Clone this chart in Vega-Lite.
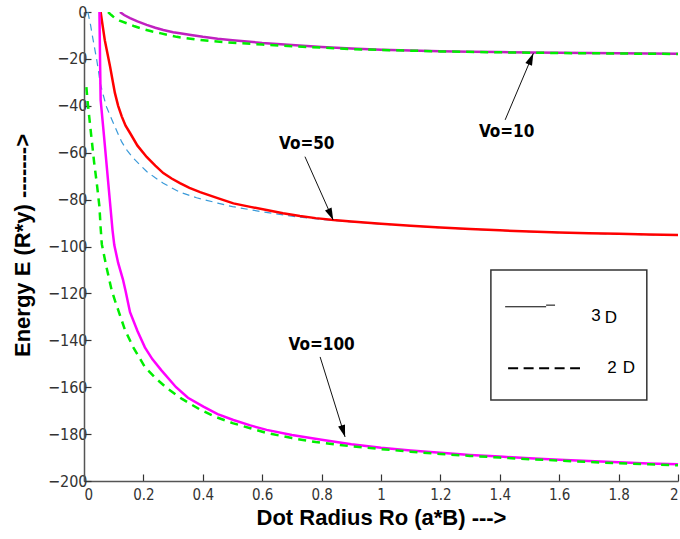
{
  "$schema": "https://vega.github.io/schema/vega-lite/v6.json",
  "width": 594,
  "height": 469,
  "autosize": "none",
  "padding": {"left": 84, "top": 12, "right": 2, "bottom": 58},
  "background": "white",
  "config": {"view": {"stroke": null}},
  "datasets": {
    "curves": [
      {"series": "Vo=10 3D", "x": 0.121, "y": 0}, {"series": "Vo=10 3D", "x": 0.135, "y": -1.3}, {"series": "Vo=10 3D", "x": 0.155, "y": -2.6}, {"series": "Vo=10 3D", "x": 0.18, "y": -4.0}, {"series": "Vo=10 3D", "x": 0.211, "y": -5.5}, {"series": "Vo=10 3D", "x": 0.24, "y": -6.7}, {"series": "Vo=10 3D", "x": 0.267, "y": -7.7}, {"series": "Vo=10 3D", "x": 0.3, "y": -8.6}, {"series": "Vo=10 3D", "x": 0.323, "y": -9.1}, {"series": "Vo=10 3D", "x": 0.36, "y": -9.8}, {"series": "Vo=10 3D", "x": 0.4, "y": -10.6}, {"series": "Vo=10 3D", "x": 0.45, "y": -11.4}, {"series": "Vo=10 3D", "x": 0.5, "y": -12.0}, {"series": "Vo=10 3D", "x": 0.6, "y": -13.2}, {"series": "Vo=10 3D", "x": 0.7, "y": -14.1}, {"series": "Vo=10 3D", "x": 0.8, "y": -14.9}, {"series": "Vo=10 3D", "x": 0.9, "y": -15.6}, {"series": "Vo=10 3D", "x": 1.0, "y": -16.1}, {"series": "Vo=10 3D", "x": 1.1, "y": -16.4}, {"series": "Vo=10 3D", "x": 1.2, "y": -16.7}, {"series": "Vo=10 3D", "x": 1.3, "y": -16.9}, {"series": "Vo=10 3D", "x": 1.4, "y": -17.1}, {"series": "Vo=10 3D", "x": 1.5, "y": -17.3}, {"series": "Vo=10 3D", "x": 1.6, "y": -17.4}, {"series": "Vo=10 3D", "x": 1.7, "y": -17.5}, {"series": "Vo=10 3D", "x": 1.8, "y": -17.6}, {"series": "Vo=10 3D", "x": 1.9, "y": -17.7}, {"series": "Vo=10 3D", "x": 2.0, "y": -17.8},

      {"series": "Vo=10 2D", "x": 0.081, "y": 0}, {"series": "Vo=10 2D", "x": 0.092, "y": -1.3}, {"series": "Vo=10 2D", "x": 0.104, "y": -2.6}, {"series": "Vo=10 2D", "x": 0.12, "y": -3.7}, {"series": "Vo=10 2D", "x": 0.144, "y": -4.8}, {"series": "Vo=10 2D", "x": 0.17, "y": -6.1}, {"series": "Vo=10 2D", "x": 0.2, "y": -7.3}, {"series": "Vo=10 2D", "x": 0.23, "y": -8.3}, {"series": "Vo=10 2D", "x": 0.256, "y": -9.0}, {"series": "Vo=10 2D", "x": 0.285, "y": -9.9}, {"series": "Vo=10 2D", "x": 0.312, "y": -10.6}, {"series": "Vo=10 2D", "x": 0.345, "y": -11.2}, {"series": "Vo=10 2D", "x": 0.374, "y": -11.7}, {"series": "Vo=10 2D", "x": 0.42, "y": -12.3}, {"series": "Vo=10 2D", "x": 0.5, "y": -13.1}, {"series": "Vo=10 2D", "x": 0.6, "y": -13.9}, {"series": "Vo=10 2D", "x": 0.7, "y": -14.6}, {"series": "Vo=10 2D", "x": 0.8, "y": -15.2}, {"series": "Vo=10 2D", "x": 0.9, "y": -15.8}, {"series": "Vo=10 2D", "x": 1.0, "y": -16.2}, {"series": "Vo=10 2D", "x": 1.2, "y": -16.8}, {"series": "Vo=10 2D", "x": 1.4, "y": -17.2}, {"series": "Vo=10 2D", "x": 1.6, "y": -17.5}, {"series": "Vo=10 2D", "x": 1.8, "y": -17.7}, {"series": "Vo=10 2D", "x": 2.0, "y": -17.9},

      {"series": "Vo=50 3D", "x": 0.056, "y": 0}, {"series": "Vo=50 3D", "x": 0.063, "y": -6}, {"series": "Vo=50 3D", "x": 0.07, "y": -12}, {"series": "Vo=50 3D", "x": 0.079, "y": -17.7}, {"series": "Vo=50 3D", "x": 0.088, "y": -23.4}, {"series": "Vo=50 3D", "x": 0.096, "y": -29}, {"series": "Vo=50 3D", "x": 0.104, "y": -34.5}, {"series": "Vo=50 3D", "x": 0.115, "y": -40}, {"series": "Vo=50 3D", "x": 0.127, "y": -44.5}, {"series": "Vo=50 3D", "x": 0.14, "y": -48.5}, {"series": "Vo=50 3D", "x": 0.155, "y": -51.6}, {"series": "Vo=50 3D", "x": 0.18, "y": -57}, {"series": "Vo=50 3D", "x": 0.211, "y": -61.8}, {"series": "Vo=50 3D", "x": 0.24, "y": -65.5}, {"series": "Vo=50 3D", "x": 0.267, "y": -68.7}, {"series": "Vo=50 3D", "x": 0.295, "y": -71}, {"series": "Vo=50 3D", "x": 0.323, "y": -73}, {"series": "Vo=50 3D", "x": 0.355, "y": -75}, {"series": "Vo=50 3D", "x": 0.391, "y": -76.8}, {"series": "Vo=50 3D", "x": 0.45, "y": -79.4}, {"series": "Vo=50 3D", "x": 0.503, "y": -81.6}, {"series": "Vo=50 3D", "x": 0.56, "y": -83.1}, {"series": "Vo=50 3D", "x": 0.615, "y": -84.4}, {"series": "Vo=50 3D", "x": 0.67, "y": -85.8}, {"series": "Vo=50 3D", "x": 0.727, "y": -87}, {"series": "Vo=50 3D", "x": 0.78, "y": -87.9}, {"series": "Vo=50 3D", "x": 0.84, "y": -88.7}, {"series": "Vo=50 3D", "x": 0.9, "y": -89.3}, {"series": "Vo=50 3D", "x": 1.0, "y": -90.3}, {"series": "Vo=50 3D", "x": 1.1, "y": -91.1}, {"series": "Vo=50 3D", "x": 1.2, "y": -91.9}, {"series": "Vo=50 3D", "x": 1.3, "y": -92.5}, {"series": "Vo=50 3D", "x": 1.4, "y": -93.1}, {"series": "Vo=50 3D", "x": 1.5, "y": -93.6}, {"series": "Vo=50 3D", "x": 1.6, "y": -94.0}, {"series": "Vo=50 3D", "x": 1.7, "y": -94.3}, {"series": "Vo=50 3D", "x": 1.8, "y": -94.6}, {"series": "Vo=50 3D", "x": 1.9, "y": -94.9}, {"series": "Vo=50 3D", "x": 2.0, "y": -95.1},

      {"series": "Vo=50 2D", "x": 0.013, "y": 0}, {"series": "Vo=50 2D", "x": 0.022, "y": -5.5}, {"series": "Vo=50 2D", "x": 0.029, "y": -10.7}, {"series": "Vo=50 2D", "x": 0.036, "y": -15.6}, {"series": "Vo=50 2D", "x": 0.043, "y": -20.5}, {"series": "Vo=50 2D", "x": 0.049, "y": -25.3}, {"series": "Vo=50 2D", "x": 0.054, "y": -30}, {"series": "Vo=50 2D", "x": 0.065, "y": -35.5}, {"series": "Vo=50 2D", "x": 0.076, "y": -40.5}, {"series": "Vo=50 2D", "x": 0.088, "y": -44.2}, {"series": "Vo=50 2D", "x": 0.099, "y": -47.4}, {"series": "Vo=50 2D", "x": 0.113, "y": -51.5}, {"series": "Vo=50 2D", "x": 0.127, "y": -55.4}, {"series": "Vo=50 2D", "x": 0.145, "y": -59}, {"series": "Vo=50 2D", "x": 0.166, "y": -62.3}, {"series": "Vo=50 2D", "x": 0.19, "y": -65.4}, {"series": "Vo=50 2D", "x": 0.211, "y": -68}, {"series": "Vo=50 2D", "x": 0.24, "y": -70.7}, {"series": "Vo=50 2D", "x": 0.267, "y": -73}, {"series": "Vo=50 2D", "x": 0.295, "y": -75}, {"series": "Vo=50 2D", "x": 0.323, "y": -76.8}, {"series": "Vo=50 2D", "x": 0.35, "y": -78}, {"series": "Vo=50 2D", "x": 0.379, "y": -79.2}, {"series": "Vo=50 2D", "x": 0.45, "y": -81.5}, {"series": "Vo=50 2D", "x": 0.5, "y": -83}, {"series": "Vo=50 2D", "x": 0.6, "y": -85.2}, {"series": "Vo=50 2D", "x": 0.7, "y": -87.1}, {"series": "Vo=50 2D", "x": 0.8, "y": -88.5}, {"series": "Vo=50 2D", "x": 0.9, "y": -89.5}, {"series": "Vo=50 2D", "x": 1.0, "y": -90.4}, {"series": "Vo=50 2D", "x": 1.1, "y": -91.2}, {"series": "Vo=50 2D", "x": 1.2, "y": -92.0}, {"series": "Vo=50 2D", "x": 1.3, "y": -92.6}, {"series": "Vo=50 2D", "x": 1.4, "y": -93.2}, {"series": "Vo=50 2D", "x": 1.5, "y": -93.7}, {"series": "Vo=50 2D", "x": 1.6, "y": -94.1}, {"series": "Vo=50 2D", "x": 1.7, "y": -94.4}, {"series": "Vo=50 2D", "x": 1.8, "y": -94.7}, {"series": "Vo=50 2D", "x": 1.9, "y": -95.0}, {"series": "Vo=50 2D", "x": 2.0, "y": -95.2},

      {"series": "Vo=100 3D", "x": 0.052, "y": 0}, {"series": "Vo=100 3D", "x": 0.054, "y": -20}, {"series": "Vo=100 3D", "x": 0.056, "y": -37.5}, {"series": "Vo=100 3D", "x": 0.066, "y": -51}, {"series": "Vo=100 3D", "x": 0.076, "y": -65}, {"series": "Vo=100 3D", "x": 0.086, "y": -79}, {"series": "Vo=100 3D", "x": 0.096, "y": -93}, {"series": "Vo=100 3D", "x": 0.102, "y": -99.4}, {"series": "Vo=100 3D", "x": 0.115, "y": -107}, {"series": "Vo=100 3D", "x": 0.131, "y": -114}, {"series": "Vo=100 3D", "x": 0.14, "y": -119}, {"series": "Vo=100 3D", "x": 0.155, "y": -128}, {"series": "Vo=100 3D", "x": 0.18, "y": -136}, {"series": "Vo=100 3D", "x": 0.205, "y": -143}, {"series": "Vo=100 3D", "x": 0.23, "y": -148}, {"series": "Vo=100 3D", "x": 0.26, "y": -152.7}, {"series": "Vo=100 3D", "x": 0.31, "y": -160}, {"series": "Vo=100 3D", "x": 0.35, "y": -164.5}, {"series": "Vo=100 3D", "x": 0.402, "y": -168.3}, {"series": "Vo=100 3D", "x": 0.45, "y": -171.5}, {"series": "Vo=100 3D", "x": 0.503, "y": -174}, {"series": "Vo=100 3D", "x": 0.56, "y": -176.3}, {"series": "Vo=100 3D", "x": 0.615, "y": -178.2}, {"series": "Vo=100 3D", "x": 0.7, "y": -180.4}, {"series": "Vo=100 3D", "x": 0.8, "y": -182.4}, {"series": "Vo=100 3D", "x": 0.9, "y": -184.3}, {"series": "Vo=100 3D", "x": 1.0, "y": -185.8}, {"series": "Vo=100 3D", "x": 1.1, "y": -187}, {"series": "Vo=100 3D", "x": 1.2, "y": -188}, {"series": "Vo=100 3D", "x": 1.3, "y": -188.9}, {"series": "Vo=100 3D", "x": 1.4, "y": -189.6}, {"series": "Vo=100 3D", "x": 1.5, "y": -190.3}, {"series": "Vo=100 3D", "x": 1.6, "y": -190.9}, {"series": "Vo=100 3D", "x": 1.7, "y": -191.5}, {"series": "Vo=100 3D", "x": 1.8, "y": -192}, {"series": "Vo=100 3D", "x": 1.9, "y": -192.5}, {"series": "Vo=100 3D", "x": 2.0, "y": -192.9},

      {"series": "Vo=100 2D", "x": 0.008, "y": -32}, {"series": "Vo=100 2D", "x": 0.012, "y": -38}, {"series": "Vo=100 2D", "x": 0.017, "y": -44}, {"series": "Vo=100 2D", "x": 0.026, "y": -54.6}, {"series": "Vo=100 2D", "x": 0.034, "y": -64}, {"series": "Vo=100 2D", "x": 0.043, "y": -73}, {"series": "Vo=100 2D", "x": 0.052, "y": -83}, {"series": "Vo=100 2D", "x": 0.056, "y": -92}, {"series": "Vo=100 2D", "x": 0.06, "y": -99}, {"series": "Vo=100 2D", "x": 0.068, "y": -104}, {"series": "Vo=100 2D", "x": 0.076, "y": -109}, {"series": "Vo=100 2D", "x": 0.093, "y": -118.6}, {"series": "Vo=100 2D", "x": 0.104, "y": -123}, {"series": "Vo=100 2D", "x": 0.115, "y": -127}, {"series": "Vo=100 2D", "x": 0.138, "y": -135.6}, {"series": "Vo=100 2D", "x": 0.166, "y": -143}, {"series": "Vo=100 2D", "x": 0.205, "y": -151.4}, {"series": "Vo=100 2D", "x": 0.24, "y": -156}, {"series": "Vo=100 2D", "x": 0.28, "y": -160.5}, {"series": "Vo=100 2D", "x": 0.33, "y": -165}, {"series": "Vo=100 2D", "x": 0.39, "y": -169.5}, {"series": "Vo=100 2D", "x": 0.44, "y": -172.5}, {"series": "Vo=100 2D", "x": 0.5, "y": -175.3}, {"series": "Vo=100 2D", "x": 0.56, "y": -177.5}, {"series": "Vo=100 2D", "x": 0.615, "y": -179.5}, {"series": "Vo=100 2D", "x": 0.7, "y": -181.7}, {"series": "Vo=100 2D", "x": 0.78, "y": -183.4}, {"series": "Vo=100 2D", "x": 0.9, "y": -185.2}, {"series": "Vo=100 2D", "x": 1.0, "y": -186.4}, {"series": "Vo=100 2D", "x": 1.1, "y": -187.5}, {"series": "Vo=100 2D", "x": 1.2, "y": -188.5}, {"series": "Vo=100 2D", "x": 1.3, "y": -189.3}, {"series": "Vo=100 2D", "x": 1.4, "y": -190}, {"series": "Vo=100 2D", "x": 1.5, "y": -190.7}, {"series": "Vo=100 2D", "x": 1.6, "y": -191.3}, {"series": "Vo=100 2D", "x": 1.7, "y": -191.9}, {"series": "Vo=100 2D", "x": 1.8, "y": -192.4}, {"series": "Vo=100 2D", "x": 1.9, "y": -192.9}, {"series": "Vo=100 2D", "x": 2.0, "y": -193.3}
    ],
    "arrows": [
      {"label": "Vo=10", "x": 1.513, "y": -17.6, "x2": 1.418, "y2": -46},
      {"label": "Vo=50", "x": 0.839, "y": -88.7, "x2": 0.744, "y2": -61.7},
      {"label": "Vo=100", "x": 0.879, "y": -181.2, "x2": 0.795, "y2": -147.1}
    ],
    "labels": [
      {"label": "Vo=10", "x": 1.423, "y": -51},
      {"label": "Vo=50", "x": 0.75, "y": -56.4},
      {"label": "Vo=100", "x": 0.80, "y": -142}
    ],
    "legendbox": [
      {"x": 1.370, "y": -110.0, "x2": 1.895, "y2": -165.5}
    ],
    "legendsolid": [
      {"x": 1.418, "y": -125.7, "x2": 1.556, "y2": -125.7},
      {"x": 1.556, "y": -125.0, "x2": 1.586, "y2": -125.0}
    ],
    "legenddash": [
      {"x": 1.428, "y": -151.9, "x2": 1.670, "y2": -151.9}
    ],
    "legendtext": [
      {"label": "3", "x": 1.724, "y": -129.6},
      {"label": "D", "x": 1.774, "y": -130.4},
      {"label": "2", "x": 1.778, "y": -151.9},
      {"label": "D", "x": 1.835, "y": -151.9}
    ]
  },
  "encoding": {
    "x": {
      "field": "x", "type": "quantitative",
      "scale": {"domain": [0, 2], "nice": false, "zero": false},
      "axis": {
        "title": "Dot Radius  Ro (a*B)  --->",
        "values": [0, 0.2, 0.4, 0.6, 0.8, 1, 1.2, 1.4, 1.6, 1.8, 2],
        "format": ".1~f",
        "grid": false,
        "domainColor": "#555555", "domainWidth": 1.5,
        "tickColor": "#333333", "tickSize": -7, "tickWidth": 1.2,
        "labelFont": "Liberation Sans Narrow, DejaVu Sans Condensed, Liberation Sans, sans-serif", "labelFontSize": 15, "labelColor": "#333333", "labelPadding": 13,
        "titleFont": "Liberation Sans", "titleFontSize": 22, "titleFontWeight": "bold", "titleColor": "#000000",
        "titleY": 43, "titleBaseline": "alphabetic"
      }
    },
    "y": {
      "field": "y", "type": "quantitative",
      "scale": {"domain": [-200, 0], "nice": false, "zero": false},
      "axis": {
        "title": "Energy E (R*y)  ------->",
        "values": [-200, -180, -160, -140, -120, -100, -80, -60, -40, -20, 0],
        "format": "d",
        "grid": false,
        "domainColor": "#555555", "domainWidth": 1.5,
        "tickColor": "#333333", "tickSize": -7, "tickWidth": 1.2,
        "labelFont": "Liberation Sans Narrow, DejaVu Sans Condensed, Liberation Sans, sans-serif", "labelFontSize": 16, "labelColor": "#333333", "labelPadding": 4,
        "titleFont": "Liberation Sans", "titleFontSize": 22, "titleFontWeight": "bold", "titleColor": "#000000",
        "titleX": -55, "titleY": 233, "titleBaseline": "alphabetic", "titleAngle": 270
      }
    }
  },
  "layer": [
    {
      "data": {"name": "curves"},
      "transform": [{"filter": "datum.series === 'Vo=50 2D'"}],
      "mark": {"type": "line", "color": "#3a9ad9", "strokeWidth": 1.2, "strokeDash": [7, 5], "clip": true},
      "encoding": {"detail": {"field": "series"}, "order": {"field": "x", "type": "quantitative"}}
    },
    {
      "data": {"name": "curves"},
      "transform": [{"filter": "indexof(datum.series, '3D') >= 0"}],
      "mark": {"type": "line", "strokeWidth": 2.5, "clip": true},
      "encoding": {
        "color": {"field": "series", "type": "nominal", "legend": null,
          "scale": {"domain": ["Vo=10 3D", "Vo=50 3D", "Vo=100 3D"], "range": ["#c020c0", "#ff0000", "#ff00ff"]}},
        "order": {"field": "x", "type": "quantitative"}
      }
    },
    {
      "data": {"name": "curves"},
      "transform": [{"filter": "datum.series === 'Vo=10 2D' || datum.series === 'Vo=100 2D'"}],
      "mark": {"type": "line", "color": "#00ee00", "strokeWidth": 2.5, "strokeDash": [8, 6], "clip": true},
      "encoding": {"detail": {"field": "series"}, "order": {"field": "x", "type": "quantitative"}}
    },
    {
      "data": {"name": "arrows"},
      "mark": {"type": "rule", "color": "#111111", "strokeWidth": 1},
      "encoding": {"x2": {"field": "x2"}, "y2": {"field": "y2"}}
    },
    {
      "data": {"name": "arrows"},
      "transform": [{"filter": "datum.label === 'Vo=10'"}],
      "mark": {"type": "point", "shape": "M0,0L0.6,2L-0.6,2Z", "filled": true, "color": "#000000", "size": 144, "angle": 23, "opacity": 1},
      "encoding": {}
    },
    {
      "data": {"name": "arrows"},
      "transform": [{"filter": "datum.label === 'Vo=50'"}],
      "mark": {"type": "point", "shape": "M0,0L0.6,2L-0.6,2Z", "filled": true, "color": "#000000", "size": 144, "angle": 156, "opacity": 1},
      "encoding": {}
    },
    {
      "data": {"name": "arrows"},
      "transform": [{"filter": "datum.label === 'Vo=100'"}],
      "mark": {"type": "point", "shape": "M0,0L0.6,2L-0.6,2Z", "filled": true, "color": "#000000", "size": 144, "angle": 163, "opacity": 1},
      "encoding": {}
    },
    {
      "data": {"name": "labels"},
      "mark": {"type": "text", "font": "Liberation Sans Narrow, DejaVu Sans Condensed, Liberation Sans, sans-serif", "fontSize": 17, "fontWeight": "bold", "color": "#000000", "align": "center", "baseline": "middle"},
      "encoding": {"text": {"field": "label"}}
    },
    {
      "data": {"name": "legendbox"},
      "mark": {"type": "rect", "fill": "#ffffff", "stroke": "#333333", "strokeWidth": 1.5},
      "encoding": {"x2": {"field": "x2"}, "y2": {"field": "y2"}}
    },
    {
      "data": {"name": "legendsolid"},
      "mark": {"type": "rule", "color": "#000000", "strokeWidth": 1},
      "encoding": {"x2": {"field": "x2"}, "y2": {"field": "y2"}}
    },
    {
      "data": {"name": "legenddash"},
      "mark": {"type": "rule", "color": "#000000", "strokeWidth": 2, "strokeDash": [10, 5.5]},
      "encoding": {"x2": {"field": "x2"}, "y2": {"field": "y2"}}
    },
    {
      "data": {"name": "legendtext"},
      "mark": {"type": "text", "font": "Liberation Sans", "fontSize": 17, "color": "#000000", "align": "center", "baseline": "middle"},
      "encoding": {"text": {"field": "label"}}
    }
  ]
}
